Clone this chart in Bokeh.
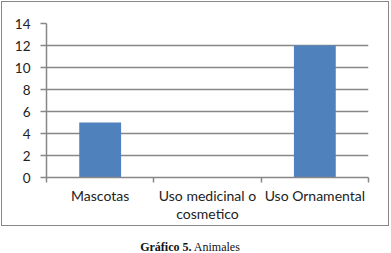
from bokeh.plotting import figure
from bokeh.models import Range1d, FixedTicker, Div
from bokeh.layouts import column
from bokeh.embed import file_html
from bokeh.resources import INLINE

categories = ["Mascotas", "Uso medicinal o\ncosmetico", "Uso Ornamental"]
values = [5, 0, 12]
y_ticks = [0, 2, 4, 6, 8, 10, 12, 14]
caption_bold = "Gráfico 5."
caption_text = "Animales"

GREY = "#878787"
BAR = "#4F81BD"

p = figure(width=386, height=223, output_backend="svg", toolbar_location=None,
           x_range=Range1d(0, len(categories)), y_range=Range1d(0, 14),
           min_border_left=44, min_border_right=20, min_border_top=21,
           min_border_bottom=48, margin=(2, 0, 0, 2))
p.styles = {"outline": "1.5px solid #878787"}
p.outline_line_color = None
p.background_fill_color = "white"
p.border_fill_color = "white"

xs = [i + 0.5 for i in range(len(categories))]
p.vbar(x=xs, top=values, width=0.39, fill_color=BAR, line_color=None)

p.xgrid.visible = False
p.ygrid.ticker = FixedTicker(ticks=y_ticks)
p.ygrid.grid_line_color = GREY
p.ygrid.grid_line_width = 1.5

p.yaxis.ticker = FixedTicker(ticks=y_ticks)
p.yaxis.axis_line_color = GREY
p.yaxis.axis_line_width = 1.5
p.yaxis.major_tick_line_color = GREY
p.yaxis.major_tick_line_width = 1.5
p.yaxis.major_tick_in = 0
p.yaxis.major_tick_out = 6
p.yaxis.minor_tick_line_color = None
p.yaxis.major_label_text_font = "Lato"
p.yaxis.major_label_text_font_size = "13.5px"
p.yaxis.major_label_text_color = "#222222"
p.yaxis.major_label_standoff = 10

p.xaxis.ticker = FixedTicker(ticks=xs, minor_ticks=list(range(len(categories) + 1)))
p.xaxis.major_label_overrides = {x: c for x, c in zip(xs, categories)}
p.xaxis.axis_line_color = GREY
p.xaxis.axis_line_width = 1.5
p.xaxis.major_tick_line_color = None
p.xaxis.minor_tick_line_color = GREY
p.xaxis.minor_tick_line_width = 1.5
p.xaxis.minor_tick_in = 0
p.xaxis.minor_tick_out = 5
p.xaxis.major_label_text_font = "Lato"
p.xaxis.major_label_text_font_size = "14px"
p.xaxis.major_label_text_line_height = 1.1
p.xaxis.major_label_text_color = "#222222"
p.xaxis.major_label_standoff = 3

caption = Div(text=f"<b>{caption_bold}</b> {caption_text}", width=380, height=26,
              margin=(0, 0, 0, 0),
              styles={"font-family": "Liberation Serif", "font-size": "12px",
                      "line-height": "14px", "padding-top": "15px",
                      "text-align": "center", "color": "#111111"})

layout = column(p, caption, spacing=0, width=391, height=253)
open("out.html", "w").write(file_html(layout, INLINE))
